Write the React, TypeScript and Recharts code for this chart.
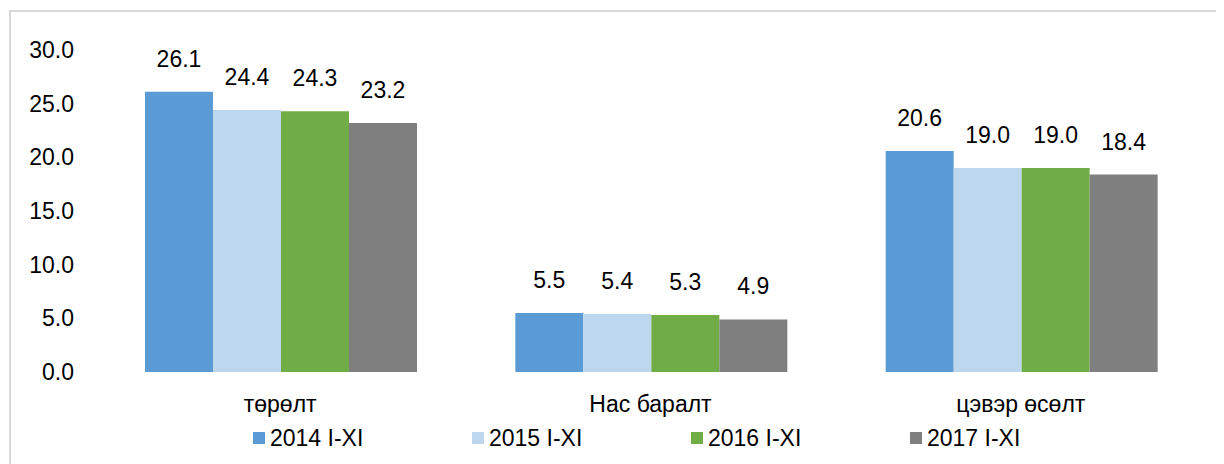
import React from 'react';
import { BarChart, Bar, XAxis, YAxis, Legend, LabelList } from 'recharts';

// categories and values
const categories = ['төрөлт', 'Нас баралт', 'цэвэр өсөлт'];
const series2014 = [26.1, 5.5, 20.6];
const series2015 = [24.4, 5.4, 19.0];
const series2016 = [24.3, 5.3, 19.0];
const series2017 = [23.2, 4.9, 18.4];
const seriesNames = ['2014 I-XI', '2015 I-XI', '2016 I-XI', '2017 I-XI'];
const yTicks = [0, 5, 10, 15, 20, 25, 30];

const colors = ['#5B9BD5', '#BDD7EE', '#70AD47', '#7F7F7F'];
const font = '"Liberation Sans", Arial, sans-serif';

const chartData = categories.map((name, i) => ({
  name,
  s2014: series2014[i],
  s2015: series2015[i],
  s2016: series2016[i],
  s2017: series2017[i],
}));

const keys = ['s2014', 's2015', 's2016', 's2017'];

function LegendContent() {
  return (
    <div style={{ display: 'flex', height: 24, alignItems: 'center', paddingLeft: 245, fontFamily: font, fontSize: 23, color: '#000' }}>
      {seriesNames.map((n, i) => (
        <div key={n} style={{ width: 219, display: 'flex', alignItems: 'center' }}>
          <span style={{ width: 12, height: 12, background: colors[i], display: 'inline-block', marginRight: 5 }} />
          <span>{n}</span>
        </div>
      ))}
    </div>
  );
}

export default function App() {
  return (
    <div style={{ position: 'relative', width: 1216, height: 456, fontFamily: font }}>
      <div
        style={{
          position: 'absolute',
          left: 1,
          top: 2,
          width: 1300,
          height: 600,
          borderLeft: '2px solid #d9d9d9',
          borderTop: '2px solid #d9d9d9',
          boxSizing: 'border-box',
        }}
      />
      <div style={{ position: 'absolute', left: 0, top: 0, overflow: 'hidden', width: 1216, height: 456 }}>
        <BarChart
          width={1216}
          height={456}
          data={chartData}
          margin={{ top: 42, right: 18, left: 0, bottom: 14 }}
          barCategoryGap="13.5%"
          barGap={0}
        >
          <XAxis
            dataKey="name"
            axisLine={false}
            tickLine={false}
            tickSize={0}
            tickMargin={24}
            height={54}
            tick={{ fill: '#000', fontSize: 23, fontFamily: font }}
          />
          <YAxis
            domain={[0, 30]}
            ticks={yTicks}
            axisLine={false}
            tickLine={false}
            tickSize={0}
            tickMargin={21}
            width={87}
            tickFormatter={(v: number) => v.toFixed(1)}
            tick={{ fill: '#000', fontSize: 23, fontFamily: font }}
          />
          <Legend verticalAlign="bottom" content={<LegendContent />} />
          {keys.map((k, i) => (
            <Bar key={k} dataKey={k} name={seriesNames[i]} fill={colors[i]} isAnimationActive={false}>
              <LabelList
                dataKey={k}
                position="top"
                offset={25}
                formatter={(v: number) => v.toFixed(1)}
                style={{ fill: '#000', fontSize: 23, fontFamily: font }}
              />
            </Bar>
          ))}
        </BarChart>
      </div>
    </div>
  );
}
